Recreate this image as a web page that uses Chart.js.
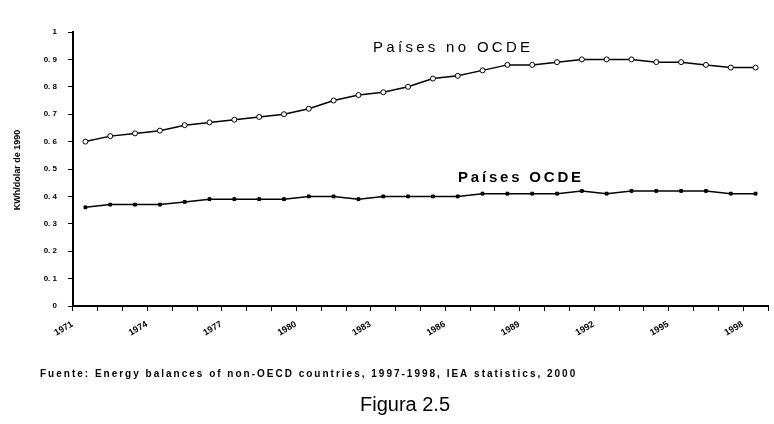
<!DOCTYPE html>
<html>
<head>
<meta charset="utf-8">
<script src="https://cdn.jsdelivr.net/npm/chart.js@4"></script>
<style>
  html, body { margin: 0; padding: 0; background: #fff; }
  #marco { width: 774px; height: 424px; }
</style>
</head>
<body>
<div id="marco"><canvas id="grafico" width="774" height="424"></canvas></div>
<script>
// datos (kWh por dolar de 1990)
const anios = ['1971','1972','1973','1974','1975','1976','1977','1978','1979','1980',
  '1981','1982','1983','1984','1985','1986','1987','1988','1989','1990',
  '1991','1992','1993','1994','1995','1996','1997','1998'];
const aniosVisibles = ['1971','1974','1977','1980','1983','1986','1989','1992','1995','1998'];
const paisesNoOcde = [0.60,0.62,0.63,0.64,0.66,0.67,0.68,0.69,0.70,0.72,
  0.75,0.77,0.78,0.80,0.83,0.84,0.86,0.88,0.88,0.89,
  0.90,0.90,0.90,0.89,0.89,0.88,0.87,0.87];
const paisesOcde = [0.36,0.37,0.37,0.37,0.38,0.39,0.39,0.39,0.39,0.40,
  0.40,0.39,0.40,0.40,0.40,0.40,0.41,0.41,0.41,0.41,
  0.42,0.41,0.42,0.42,0.42,0.42,0.41,0.41];
const etiquetasY = ['0','0. 1','0. 2','0. 3','0. 4','0. 5','0. 6','0. 7','0. 8','0. 9','1'];

const textos = {
  tituloY: 'KWh/dolar de 1990',
  noOcde: 'Países no OCDE',
  ocde: 'Países OCDE',
  fuente: 'Fuente: Energy balances of non-OECD countries, 1997-1998, IEA statistics, 2000',
  figura: 'Figura 2.5'
};

// textos sueltos: titulo del eje, rotulos de series, fuente y pie
const rotulos = {
  id: 'rotulos',
  afterDraw(chart) {
    const ctx = chart.ctx;
    ctx.save();
    ctx.fillStyle = '#000';

    ctx.save();
    ctx.translate(18, 170);
    ctx.rotate(-Math.PI / 2);
    ctx.font = 'bold 9px "Liberation Sans", Arial, sans-serif';
    ctx.textAlign = 'center';
    ctx.textBaseline = 'middle';
    ctx.fillText(textos.tituloY, 0, 0);
    ctx.restore();

    ctx.textBaseline = 'middle';
    ctx.textAlign = 'left';
    ctx.letterSpacing = '3.3px';
    ctx.font = '15px "Liberation Sans", Arial, sans-serif';
    ctx.fillText(textos.noOcde, 373, 48);

    ctx.letterSpacing = '2.8px';
    ctx.font = 'bold 15px "Liberation Sans", Arial, sans-serif';
    ctx.fillText(textos.ocde, 458, 178);

    ctx.letterSpacing = '2px';
    ctx.font = 'bold 10px "Liberation Sans", Arial, sans-serif';
    ctx.fillText(textos.fuente, 40, 374);

    ctx.letterSpacing = '0px';
    ctx.font = '20px "Liberation Sans", Arial, sans-serif';
    ctx.textAlign = 'center';
    ctx.fillText(textos.figura, 405, 405);
    ctx.restore();
  }
};

const grafico = new Chart(document.getElementById('grafico'), {
  type: 'line',
  data: {
    labels: anios,
    datasets: [
      {
        label: textos.noOcde,
        data: paisesNoOcde,
        borderColor: '#000',
        borderWidth: 1.5,
        tension: 0,
        pointStyle: 'circle',
        pointRadius: 2.5,
        pointBackgroundColor: '#fff',
        pointBorderColor: '#000',
        pointBorderWidth: 1
      },
      {
        label: textos.ocde,
        data: paisesOcde,
        borderColor: '#000',
        borderWidth: 1.5,
        tension: 0,
        pointStyle: 'rect',
        pointRadius: 2,
        pointBackgroundColor: '#000',
        pointBorderColor: '#000',
        pointBorderWidth: 1
      }
    ]
  },
  options: {
    responsive: false,
    animation: false,
    devicePixelRatio: 1,
    layout: { padding: { top: 32, right: 6, bottom: 0, left: 0 } },
    plugins: {
      legend: { display: false },
      tooltip: { enabled: false }
    },
    scales: {
      x: {
        offset: true,
        grid: { offset: true, drawOnChartArea: false, tickLength: 5, color: '#000' },
        border: { color: '#000', width: 2 },
        ticks: {
          autoSkip: false,
          minRotation: 30,
          maxRotation: 30,
          padding: 8,
          labelOffset: -13,
          color: '#000',
          font: { family: '"Liberation Sans", Arial, sans-serif', size: 9, weight: 'bold' },
          callback: function (v) {
            const a = this.getLabelForValue(v);
            return aniosVisibles.includes(a) ? a : '';
          }
        },
        afterFit: (s) => { s.height = 118; }
      },
      y: {
        min: 0,
        max: 1,
        grid: { drawOnChartArea: false, tickLength: 5, color: '#000' },
        border: { color: '#000', width: 2 },
        ticks: {
          stepSize: 0.1,
          padding: 11,
          color: '#000',
          font: { family: '"Liberation Sans", Arial, sans-serif', size: 8, weight: 'bold' },
          callback: (v) => etiquetasY[Math.round(v * 10)]
        },
        afterFit: (s) => { s.width = 73; }
      }
    }
  },
  plugins: [rotulos]
});
</script>
</body>
</html>
